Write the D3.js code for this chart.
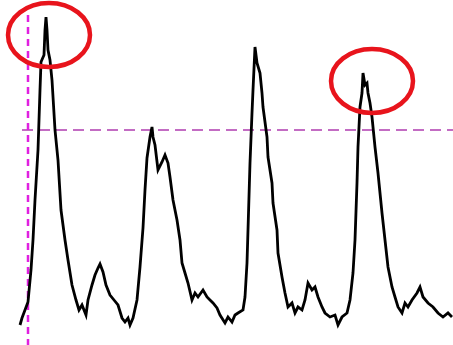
<!DOCTYPE html>
<html>
  <head>
    <title>Peak trace</title>
    <style>
      body { margin: 0; background: #fff; }
    </style>
  </head>
  <body>
    <svg width="453" height="345"></svg>
    <script src="https://d3js.org/d3.v7.min.js"></script>
    <script>

    // sample index and signal amplitude
    var samples = [0,2,5,8,11,13,15,18,20,21,24,25,26,27,28,30,32,35,38,41,45,48,52,56,59,62,66,68,72,75,78,80,83,86,90,94,98,102,105,108,110,113,117,120,123,125,127,130,132,133,135,138,142,145,148,150,153,157,160,162,165,168,172,175,178,183,187,190,193,197,200,205,208,212,215,218,223,225,227,228,230,232,233,235,237,240,242,243,247,248,252,253,257,258,262,265,268,272,275,278,282,285,288,292,295,298,302,305,310,315,318,322,327,330,333,335,337,338,340,342,343,345,347,348,350,352,355,358,362,365,368,372,375,378,382,385,388,392,397,400,403,408,413,418,423,428,432];
    var amplitude = [5,12,20,28,60,90,130,180,240,268,275,300,313,300,280,270,250,200,170,120,90,70,45,30,20,25,15,30,45,55,62,66,58,45,35,30,25,12,8,12,5,12,30,63,102,140,172,193,203,193,185,160,168,175,167,153,130,110,90,67,57,47,30,37,33,40,33,30,27,22,15,7,13,8,15,17,20,33,67,100,167,217,240,283,267,257,237,223,193,173,147,127,100,77,53,37,23,27,17,23,20,30,47,40,43,33,23,17,13,15,5,13,17,30,57,90,147,183,223,237,257,245,247,237,227,213,183,157,117,90,63,43,33,23,17,27,23,30,37,43,33,27,23,17,13,17,13];

    var threshold = 200;       // horizontal dashed level
    var markerSample = 8;      // vertical dashed marker
    var highlights = [         // circled peaks: centre (sample, amplitude)
      {t: 29, a: 295},
      {t: 352, a: 249}
    ];

    var svg = d3.select("svg");

    var x = d3.scaleLinear().domain([0, 433]).range([20, 453]);
    var y = d3.scaleLinear().domain([0, 330]).range([330, 0]);

    var data = samples.map(function(t, i) { return {t: t, a: amplitude[i]}; });

    // threshold line
    svg.append("line")
        .attr("x1", x(2)).attr("x2", 453)
        .attr("y1", y(threshold)).attr("y2", y(threshold))
        .attr("stroke", "#b03cb0")
        .attr("stroke-width", 1.5)
        .attr("stroke-dasharray", "11,6");

    // marker line
    svg.append("line")
        .attr("x1", x(markerSample)).attr("x2", x(markerSample))
        .attr("y1", y(315)).attr("y2", 345)
        .attr("stroke", "#e020e0")
        .attr("stroke-width", 2.5)
        .attr("stroke-dasharray", "7,5");

    var line = d3.line()
        .x(function(d) { return x(d.t); })
        .y(function(d) { return y(d.a); });

    svg.append("path")
        .attr("d", line(data))
        .attr("fill", "none")
        .attr("stroke", "#000")
        .attr("stroke-width", 2.8);

    // red circles round the peaks
    svg.selectAll("ellipse")
        .data(highlights)
      .enter().append("ellipse")
        .attr("cx", function(d) { return x(d.t); })
        .attr("cy", function(d) { return y(d.a); })
        .attr("rx", 41)
        .attr("ry", 32)
        .attr("fill", "none")
        .attr("stroke", "#e8141c")
        .attr("stroke-width", 4.5);

    </script>
  </body>
</html>
